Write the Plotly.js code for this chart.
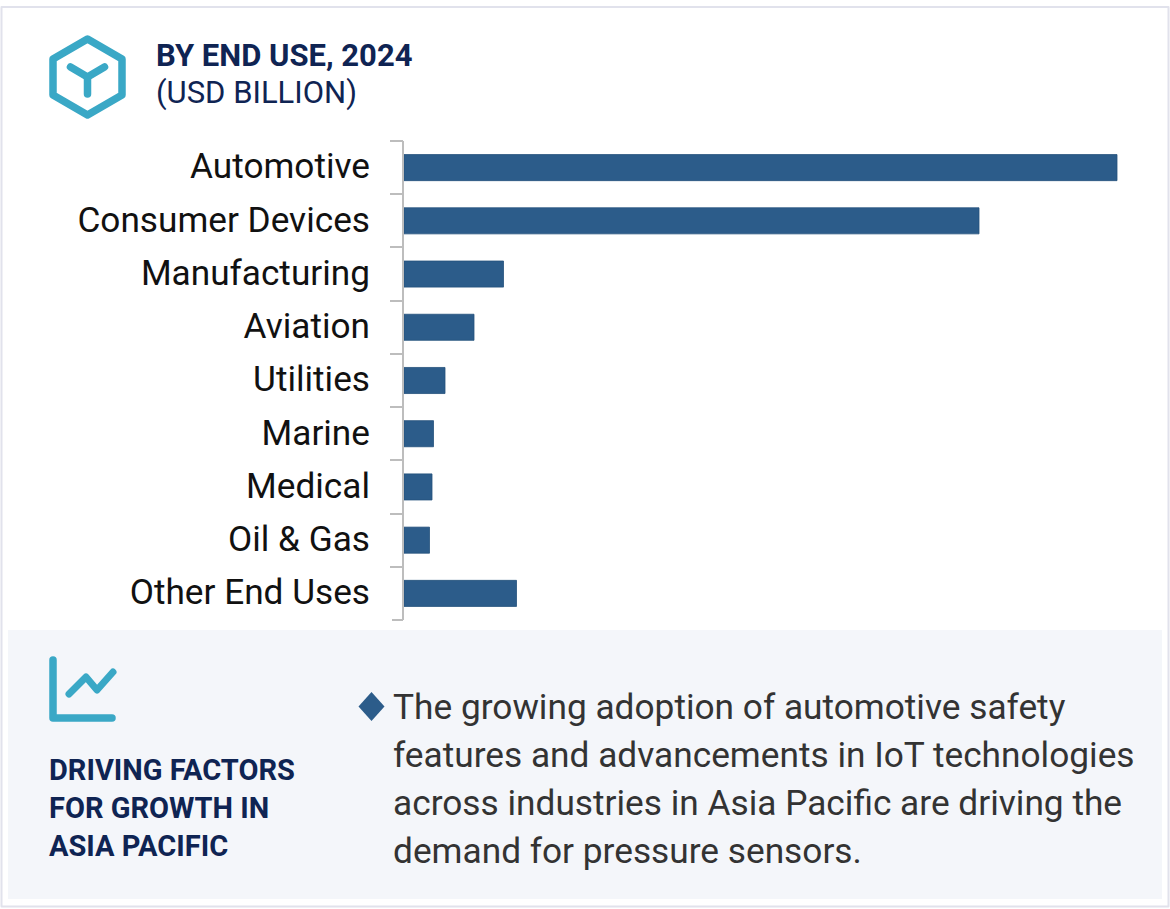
<!DOCTYPE html>
<html><head><meta charset="utf-8">
<script src="https://cdn.plot.ly/plotly-3.0.1.min.js"></script>
<style>
html,body{margin:0;padding:0;background:#fff}
#c{width:1170px;height:909px}
.shapelayer path{stroke-linecap:round;stroke-linejoin:round}
</style></head><body><div id="c"></div>
<script>
const categories=["Automotive","Consumer Devices","Manufacturing","Aviation","Utilities","Marine","Medical","Oil & Gas","Other End Uses"];
const values=[7.13,5.75,0.995,0.70,0.41,0.295,0.28,0.255,1.125];
const W=1170,H=909;
const L={l:404,r:20,t:141,b:289};
const PW=W-L.l-L.r,PH=H-L.t-L.b;
const fx=x=>(x-L.l)/PW, fy=y=>1-(y-L.t)/PH;
const scaleMax=PW/100;
function pathOf(pts,close){return pts.map((p,i)=>(i?'L':'M')+fx(p[0])+','+fy(p[1])).join(' ')+(close?' Z':'');}
function poly(pts,o){return {type:'path',xref:'paper',yref:'paper',layer:'above',path:pathOf(pts,o.close),line:{color:o.color,width:o.width||0},fillcolor:o.fill||'rgba(0,0,0,0)'};}
function rect(x0,y0,x1,y1,fill,lc,lw,layer){return {type:'rect',xref:'paper',yref:'paper',layer:layer||'below',x0:fx(x0),x1:fx(x1),y0:fy(y0),y1:fy(y1),fillcolor:fill,line:{color:lc||fill,width:lw||0}};}
const teal='#3aa8c6';
const axisGray='#bdbdbd';
const shapes=[
 rect(1.5,7,1168.5,906.5,'rgba(255,255,255,0)','#e1e2ec',2),
 rect(8,630,1162,899,'#f4f6fa'),
 rect(392,140,403,142,axisGray),
 rect(392,619,403,621,axisGray),
 poly([[87.5,39],[122,59],[122,95],[87.5,115],[53,95],[53,59]],{close:true,color:teal,width:7.5}),
 poly([[70.5,67],[87.5,77],[104.5,67]],{color:teal,width:7.5}),
 poly([[87.5,77],[87.5,94]],{color:teal,width:7.5}),
 poly([[53,660],[53,718],[112,718]],{color:teal,width:7.5}),
 poly([[69,694],[86,677],[97,690],[113,672]],{color:teal,width:7}),
 poly([[371.5,692],[384.5,706.5],[371.5,721],[358.5,706.5]],{close:true,color:'#2c5c8a',width:0,fill:'#2c5c8a'})
];
const navy='#0f2453';
function txt(text,x,y,size,color,fam){return {text,xref:'paper',yref:'paper',x:fx(x),y:fy(y),xanchor:'left',yanchor:'middle',showarrow:false,align:'left',borderpad:0,font:{family:fam||'Roboto',size,color}};}
const annotations=[
 txt('<b>BY END USE, 2024</b>',155,55.5,31,navy),
 txt('(USD BILLION)',155,92.5,31,navy),
 txt('<b>DRIVING FACTORS</b>',48,769.5,29,navy),
 txt('<b>FOR GROWTH IN</b>',48,807.5,29,navy),
 txt('<b>ASIA PACIFIC</b>',48,846,29,navy),
 txt('The growing adoption of automotive safety',391.5,706.5,35.25,'#333333'),
 txt('features and advancements in IoT technologies',391.5,754.5,35.25,'#333333'),
 txt('across industries in Asia Pacific are driving the',391.5,802.5,35.25,'#333333'),
 txt('demand for pressure sensors.',391.5,850.5,35.25,'#333333')
];
Plotly.newPlot('c',[{type:'bar',orientation:'h',y:categories,x:values,marker:{color:'#2c5c8a',line:{color:'#25527c',width:0.8}},width:0.49,hoverinfo:'skip'}],{
 width:W,height:H,margin:L,paper_bgcolor:'#fff',plot_bgcolor:'#fff',showlegend:false,
 xaxis:{range:[0,scaleMax],visible:false,fixedrange:true},
 yaxis:{type:'category',autorange:false,range:[8.5,-0.5],categoryorder:'array',categoryarray:categories,tickson:'boundaries',ticks:'outside',ticklen:12,tickcolor:axisGray,tickwidth:2,showline:true,linecolor:axisGray,linewidth:2,showgrid:false,zeroline:false,ticklabelstandoff:25,tickfont:{family:'Roboto',size:35.2,color:'#111111'},fixedrange:true},
 shapes,annotations
},{displayModeBar:false,staticPlot:true}).then(()=>{
 document.querySelectorAll('.ytick text').forEach(t=>{t.setAttribute('y',parseFloat(t.getAttribute('y'))-1.5);});
});
</script></body></html>
